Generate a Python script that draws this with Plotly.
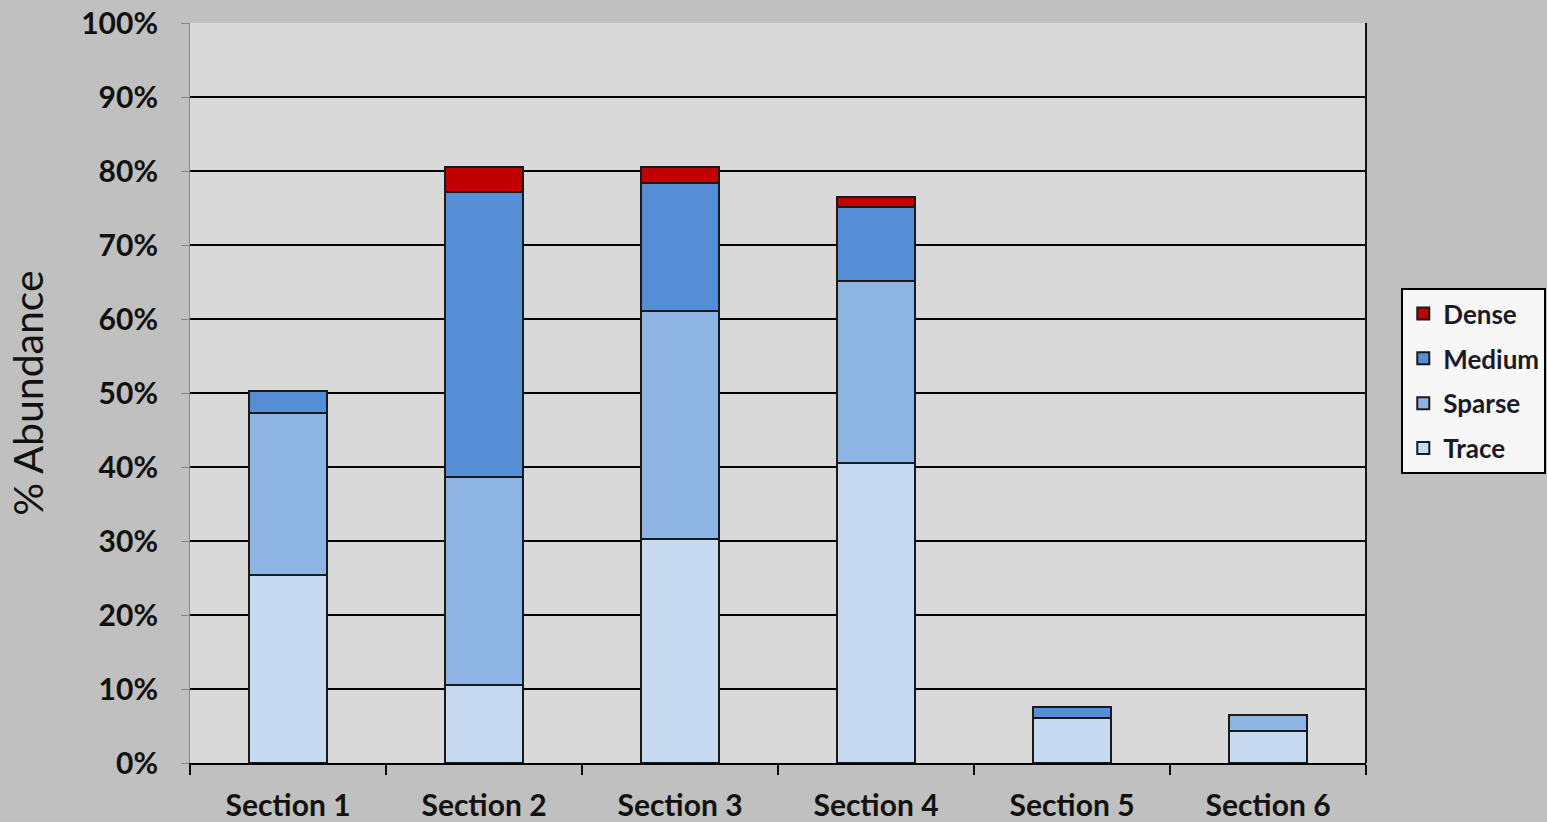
import plotly.graph_objects as go

categories = ["Section 1", "Section 2", "Section 3", "Section 4", "Section 5", "Section 6"]
trace_vals = [25.4, 10.5, 30.3, 40.5, 6.1, 4.3]
sparse_vals = [21.9, 28.1, 30.8, 24.6, 0.0, 2.2]
medium_vals = [3.0, 38.6, 17.3, 10.0, 1.5, 0.0]
dense_vals = [0.0, 3.3, 2.1, 1.4, 0.0, 0.0]

series = [
    ("Trace", trace_vals, "#C6D9F1", 4),
    ("Sparse", sparse_vals, "#8EB4E3", 3),
    ("Medium", medium_vals, "#558ED5", 2),
    ("Dense", dense_vals, "#C00000", 1),
]

FONT = "Lato"
fig = go.Figure()
for name, vals, color, rank in series:
    fig.add_trace(go.Bar(
        x=categories, y=[v / 100 for v in vals], name=name, legendgroup=name,
        legendrank=rank,
        marker=dict(color=color, line=dict(color="#1a1a1a", width=2)),
    ))

fig.update_layout(
    width=1547, height=822,
    barmode="stack", bargap=0.6,
    paper_bgcolor="#C0C0C0", plot_bgcolor="#D9D9D9",
    margin=dict(l=190, r=181, t=23, b=59, autoexpand=False),
    font=dict(family=FONT, color="#111111"),
    legend=dict(
        traceorder="grouped", tracegroupgap=8,
        x=1.03, xanchor="left", y=0.516, yanchor="middle",
        bgcolor="#F7F7F7", bordercolor="#000000", borderwidth=2,
        font=dict(family=FONT, size=26, weight="bold", color="#1a1a2a"),
        itemwidth=30,
    ),
    showlegend=True,
)
fig.update_yaxes(
    range=[0, 1], tickformat=".0%", dtick=0.1, automargin=False,
    showgrid=True, gridcolor="#000000", gridwidth=2,
    showline=True, linecolor="#888888", linewidth=1,
    ticks="outside", ticklen=8, tickcolor="#888888",
    ticklabelstandoff=17,
    tickfont=dict(family=FONT, size=30, weight="bold"),
    title=dict(text="% Abundance", font=dict(family=FONT, size=41), standoff=24),
    zeroline=False,
)
fig.update_xaxes(
    showline=True, linecolor="#000000", linewidth=2, automargin=False,
    ticks="outside", tickson="boundaries", ticklen=10, tickcolor="#000000", tickwidth=2,
    ticklabelstandoff=15,
    tickfont=dict(family=FONT, size=30, weight="bold"),
    mirror=False,
)
fig.add_shape(type="line", xref="paper", yref="paper", x0=1, x1=1, y0=0, y1=1,
              line=dict(color="#111111", width=2))

fig.write_html("out.html")
